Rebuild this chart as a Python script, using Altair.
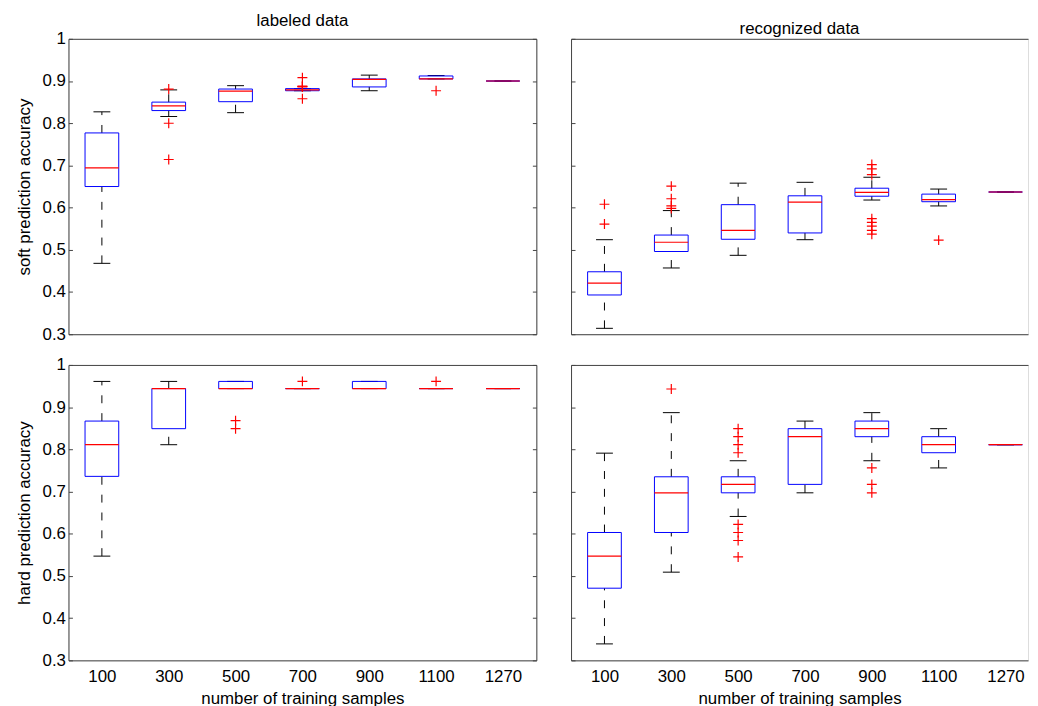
import altair as alt
import pandas as pd

categories = ["100", "300", "500", "700", "900", "1100", "1270"]

# soft prediction accuracy, labeled data
sl_low = [0.468, 0.816, 0.825, 0.877, 0.877, 0.905, 0.900]
sl_q1 = [0.650, 0.830, 0.851, 0.877, 0.886, 0.905, 0.900]
sl_med = [0.694, 0.841, 0.876, 0.879, 0.904, 0.905, 0.900]
sl_q3 = [0.777, 0.850, 0.881, 0.882, 0.905, 0.912, 0.900]
sl_high = [0.827, 0.879, 0.889, 0.882, 0.914, 0.913, 0.900]
sl_out = [[], [0.881, 0.800, 0.714], [], [0.908, 0.888, 0.887, 0.886, 0.858], [], [0.877], []]

# soft prediction accuracy, recognized data
sr_low = [0.314, 0.457, 0.487, 0.524, 0.618, 0.604, 0.637]
sr_q1 = [0.393, 0.496, 0.525, 0.540, 0.627, 0.614, 0.637]
sr_med = [0.421, 0.518, 0.546, 0.613, 0.636, 0.619, 0.637]
sr_q3 = [0.448, 0.535, 0.607, 0.628, 0.646, 0.632, 0.637]
sr_high = [0.524, 0.593, 0.658, 0.660, 0.672, 0.644, 0.637]
sr_out = [[0.608, 0.561], [0.651, 0.621, 0.604, 0.598], [], [],
          [0.702, 0.692, 0.678, 0.574, 0.565, 0.556, 0.546, 0.537], [0.523], []]

# hard prediction accuracy, labeled data
hl_low = [0.547, 0.811, 0.944, 0.944, 0.944, 0.944, 0.944]
hl_q1 = [0.736, 0.849, 0.944, 0.944, 0.944, 0.944, 0.944]
hl_med = [0.811, 0.944, 0.944, 0.944, 0.944, 0.944, 0.944]
hl_q3 = [0.867, 0.944, 0.961, 0.944, 0.961, 0.944, 0.944]
hl_high = [0.961, 0.961, 0.961, 0.944, 0.961, 0.944, 0.944]
hl_out = [[], [], [0.868, 0.849], [0.961], [], [0.961], []]

# hard prediction accuracy, recognized data
hr_low = [0.339, 0.509, 0.641, 0.697, 0.773, 0.756, 0.811]
hr_q1 = [0.471, 0.603, 0.697, 0.717, 0.830, 0.792, 0.811]
hr_med = [0.547, 0.697, 0.717, 0.830, 0.849, 0.811, 0.811]
hr_q3 = [0.603, 0.735, 0.735, 0.849, 0.867, 0.830, 0.811]
hr_high = [0.791, 0.887, 0.773, 0.867, 0.887, 0.849, 0.811]
hr_out = [[], [0.943], [0.849, 0.830, 0.811, 0.792, 0.622, 0.603, 0.584, 0.545], [],
          [0.756, 0.717, 0.697], [], []]

y_ticks = [0.3, 0.4, 0.5, 0.6, 0.7, 0.8, 0.9, 1.0]

W_LEFT, W_RIGHT, H = 472, 461, 298
STEP = W_LEFT / len(categories)
BOX_W, CAP_W = 34, 17
FONT = "Liberation Sans"
FS = 17
FRAME = "#444444"
PLUS = "M-1,0L1,0M0,-1L0,1"
LABEL_EXPR = "[" + ",".join("'%s'" % c for c in categories) + "][datum.value]"


def panel(low, q1, med, q3, high, outliers, is_left, xlabels, ytitle, title):
    pos = list(range(len(categories)))
    df = pd.DataFrame({"pos": pos, "n": categories, "low": low, "q1": q1, "med": med,
                       "q3": q3, "high": high})
    odf = pd.DataFrame([(p, v) for p, vals in zip(pos, outliers) for v in vals],
                       columns=["pos", "v"])
    width = W_LEFT if is_left else W_RIGHT
    xmax = -0.5 + width / STEP
    xscale = alt.Scale(domain=[-0.5, xmax], nice=False, zero=False, padding=0)
    if xlabels:
        xaxis = alt.Axis(values=pos, labelExpr=LABEL_EXPR, labelAngle=0, ticks=False,
                         domain=True, domainColor=FRAME, grid=False,
                         labelFlush=False, labelOverlap=False,
                         labelFontSize=FS, labelColor="black", labelPadding=8,
                         title="number of training samples", titleFontSize=FS,
                         titleFontWeight="normal", titleColor="black", titlePadding=7,
                         labelFont=FONT, titleFont=FONT)
    else:
        xaxis = alt.Axis(values=pos, labels=False, ticks=False, domain=True,
                         domainColor=FRAME, grid=False, title=None)
    top_axis = alt.Axis(orient="top", values=pos, labels=False, ticks=False, domain=True,
                        domainColor=FRAME, grid=False, title=None)
    yscale = alt.Scale(domain=[0.3, 1.0], nice=False, zero=False, padding=0)
    left_axis = alt.Axis(values=y_ticks, format=".1~f", labels=is_left, domain=True,
                         domainColor=FRAME, tickSize={"expr": "-4"}, tickColor=FRAME,
                         grid=False, labelFontSize=FS, labelColor="black", labelFont=FONT,
                         labelPadding=7, title=ytitle if is_left else None, titleFontSize=FS,
                         titleFontWeight="normal", titleColor="black", titleFont=FONT,
                         titlePadding=9)
    right_axis = alt.Axis(values=y_ticks, orient="right", labels=False, domain=True,
                          domainColor=FRAME, tickSize={"expr": "-4"}, tickColor=FRAME,
                          grid=False, title=None)

    def X(axis):
        return alt.X("pos:Q", scale=xscale, axis=axis)

    base = alt.Chart(df)
    whisk_hi = base.mark_rule(color="black", strokeWidth=1, strokeDash=[8, 10]).encode(
        x=X(None), y=alt.Y("q3:Q", scale=yscale, axis=None), y2="high:Q")
    whisk_lo = base.mark_rule(color="black", strokeWidth=1, strokeDash=[8, 10]).encode(
        x=X(None), y=alt.Y("low:Q", scale=yscale, axis=None), y2="q1:Q")
    cap_hi = base.mark_tick(color="black", thickness=1, size=CAP_W, opacity=1,
                            orient="horizontal").encode(
        x=X(None), y=alt.Y("high:Q", scale=yscale, axis=None))
    cap_lo = base.mark_tick(color="black", thickness=1, size=CAP_W, opacity=1,
                            orient="horizontal").encode(
        x=X(None), y=alt.Y("low:Q", scale=yscale, axis=None))
    box = base.mark_bar(size=BOX_W, fillOpacity=0, stroke="#0000ff", strokeWidth=1).encode(
        x=X(xaxis), y=alt.Y("q1:Q", scale=yscale, axis=left_axis), y2="q3:Q")
    median = base.mark_tick(color="#ff0000", thickness=1.2, size=BOX_W, opacity=1,
                            orient="horizontal").encode(
        x=X(top_axis),
        y=alt.Y("med:Q", scale=yscale, axis=right_axis if is_left else None))
    outs = alt.Chart(odf).mark_point(shape=PLUS, size=100, filled=False, color="#ff0000",
                                     strokeWidth=1.2, opacity=1).encode(
        x=X(None), y=alt.Y("v:Q", scale=yscale, axis=None))
    ch = alt.layer(whisk_hi, whisk_lo, cap_hi, cap_lo, box, median, outs).resolve_axis(
        x="independent", y="independent").properties(width=width, height=H)
    if title:
        ch = ch.properties(title=alt.TitleParams(title, fontSize=FS, fontWeight="normal",
                                                 font=FONT, color="black", offset=0,
                                                 frame="group"))
    return ch


tl = panel(sl_low, sl_q1, sl_med, sl_q3, sl_high, sl_out, True, False,
           "soft prediction accuracy", "labeled data")
tr = panel(sr_low, sr_q1, sr_med, sr_q3, sr_high, sr_out, False, False,
           None, "recognized data")
bl = panel(hl_low, hl_q1, hl_med, hl_q3, hl_high, hl_out, True, True,
           "hard prediction accuracy", None)
br = panel(hr_low, hr_q1, hr_med, hr_q3, hr_high, hr_out, False, True,
           None, None)

top_row = alt.hconcat(tl, tr, spacing=35, bounds="flush")
bottom_row = alt.hconcat(bl, br, spacing=35, bounds="flush")

chart = alt.vconcat(top_row, bottom_row, spacing=12).properties(
    padding={"left": 6, "top": 0, "right": 1, "bottom": 0}
).configure_view(stroke="transparent").configure(background="white")

chart.save("out.html", embed_options={"renderer": "svg", "actions": False})
